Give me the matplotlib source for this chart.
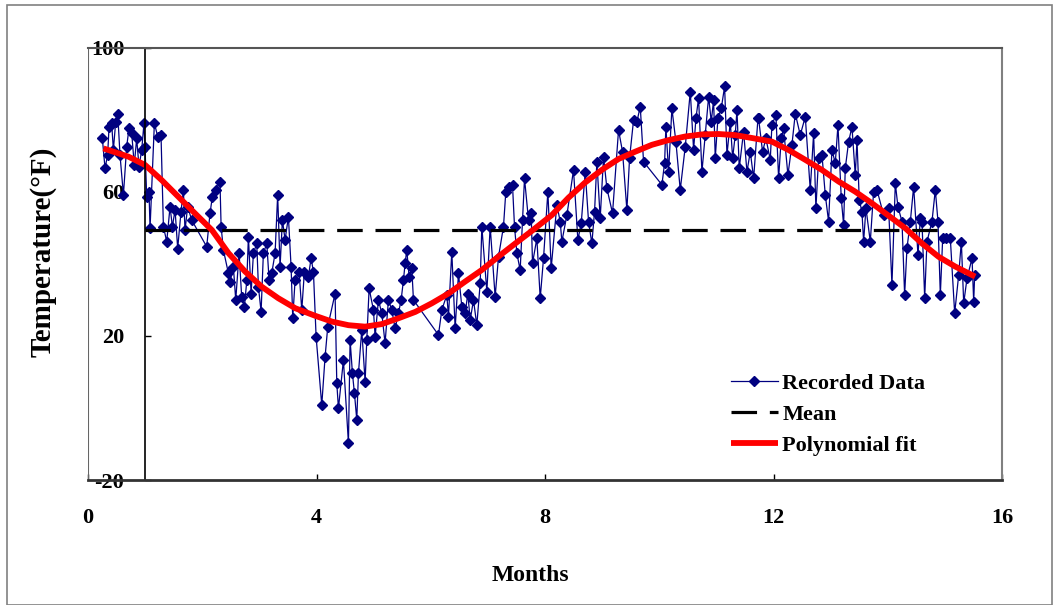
import matplotlib
matplotlib.use("Agg")
import matplotlib.pyplot as plt
from matplotlib.patches import Rectangle

plt.rcParams["font.family"] = ["Liberation Serif", "DejaVu Serif"]
plt.rcParams["font.weight"] = "bold"

# recorded temperatures (month, degF)
months = [0.251, 0.298, 0.344, 0.368, 0.414, 0.444, 0.485, 0.52, 0.56, 0.62,
          0.677, 0.718, 0.765, 0.81, 0.852, 0.893, 0.94, 0.98, 0.998, 1.027,
          1.068, 1.086, 1.162, 1.22, 1.278, 1.32, 1.378, 1.436, 1.477, 1.524,
          1.57, 1.628, 1.67, 1.698, 1.745, 1.815, 2.078, 2.136, 2.177, 2.236,
          2.31, 2.33, 2.37, 2.458, 2.487, 2.545, 2.586, 2.645, 2.69, 2.738,
          2.78, 2.808, 2.855, 2.896, 2.954, 2.983, 3.03, 3.07, 3.13, 3.17,
          3.216, 3.275, 3.32, 3.362, 3.403, 3.45, 3.508, 3.555, 3.584, 3.625,
          3.695, 3.742, 3.788, 3.858, 3.905, 3.946, 3.993,
          4.092, 4.15, 4.197, 4.325, 4.355, 4.384, 4.471, 4.559, 4.588, 4.629,
          4.664, 4.705, 4.734, 4.792, 4.851, 4.88, 4.921, 4.997, 5.026, 5.084,
          5.143, 5.2, 5.259, 5.318, 5.376, 5.434, 5.481, 5.522, 5.551, 5.58,
          5.621, 5.668, 5.697, 6.135, 6.193, 6.281, 6.31, 6.368, 6.427, 6.485,
          6.544, 6.602, 6.649, 6.69, 6.748, 6.806, 6.865, 6.894, 6.982, 7.04,
          7.127, 7.186, 7.273, 7.314, 7.372, 7.431, 7.466, 7.507, 7.565, 7.606,
          7.641, 7.711, 7.758, 7.781,
          7.857, 7.916, 7.974, 8.05, 8.108, 8.207, 8.266, 8.295, 8.383, 8.499,
          8.575, 8.634, 8.704, 8.762, 8.82, 8.867, 8.908, 8.966, 9.025, 9.083,
          9.182, 9.287, 9.357, 9.433, 9.48, 9.55, 9.608, 9.667, 9.725, 10.046,
          10.093, 10.116, 10.163, 10.221, 10.291, 10.367, 10.455, 10.543, 10.601, 10.642,
          10.688, 10.747, 10.805, 10.864, 10.91, 10.951, 10.98, 11.027, 11.085, 11.144,
          11.185, 11.243, 11.284, 11.33, 11.36, 11.4, 11.476, 11.535, 11.593, 11.652,
          11.728,
          11.738, 11.808, 11.867, 11.943, 11.972, 12.042, 12.089, 12.135, 12.176, 12.252,
          12.322, 12.381, 12.468, 12.556, 12.643, 12.702, 12.742, 12.789, 12.848, 12.906,
          12.964, 13.023, 13.081, 13.128, 13.186, 13.227, 13.256, 13.315, 13.373, 13.431,
          13.461, 13.501, 13.548, 13.577, 13.618, 13.694, 13.752, 13.811, 13.927, 14.015,
          14.073, 14.132, 14.178, 14.249, 14.295, 14.336, 14.395, 14.453, 14.529, 14.57,
          14.599, 14.646, 14.686, 14.774, 14.832, 14.879, 14.92, 14.961, 15.019, 15.095,
          15.171, 15.241, 15.288, 15.329, 15.387, 15.475, 15.504, 15.521]
temps = [74.9, 66.6, 70.3, 78.1, 79.1, 71.7, 79.5, 81.8, 70.3, 59.2,
         72.6, 77.7, 76.3, 67.5, 74.9, 67.0, 71.7, 79.1, 72.6, 58.7,
         60.1, 49.9, 79.1, 75.4, 75.8, 50.4, 46.2, 55.9, 50.4, 55.0,
         44.3, 54.5, 60.5, 49.4, 55.9, 52.2, 44.8, 54.1, 58.7, 60.5,
         62.9, 50.4, 43.9, 37.4, 35.1, 39.2, 30.0, 43.0, 30.9, 28.1,
         35.5, 47.6, 31.8, 43.0, 45.7, 33.7, 26.7, 43.0, 45.7, 35.5,
         37.4, 43.0, 59.2, 39.2, 52.2, 46.7, 53.1, 39.2, 24.9, 35.5,
         37.9, 27.2, 37.9, 36.5, 41.6, 37.9, 19.8,
         0.8, 14.2, 22.6, 31.8, 6.9, -0.1, 13.3, -9.8, 18.9, 9.6,
         4.1, -3.3, 9.6, 21.7, 7.3, 18.9, 33.2, 27.2, 19.8, 30.0,
         26.3, 18.0, 30.0, 27.2, 22.1, 26.3, 30.0, 35.5, 40.2, 43.9,
         36.5, 38.8, 30.0, 20.3, 27.2, 31.4, 25.4, 43.4, 22.1, 37.4,
         28.1, 26.3, 31.8, 24.4, 30.0, 23.0, 34.6, 50.4, 32.3, 50.4,
         30.9, 42.0, 50.4, 60.1, 61.5, 61.9, 50.4, 43.0, 38.3, 52.2,
         63.8, 52.2, 54.1, 40.2,
         47.1, 30.5, 41.6, 60.1, 38.8, 56.4, 51.8, 46.2, 53.6, 66.1,
         46.7, 51.3, 65.6, 51.8, 45.7, 54.5, 68.4, 52.7, 69.8, 61.0,
         54.1, 77.2, 71.2, 55.0, 69.4, 80.0, 79.5, 83.7, 68.4, 62.0,
         68.0, 78.1, 65.6, 83.2, 74.0, 60.6, 72.6, 87.9, 71.7, 80.5,
         86.0, 65.6, 75.8, 86.5, 79.5, 85.6, 69.4, 80.5, 83.2, 89.3,
         70.3, 79.5, 69.4, 75.8, 82.8, 66.6, 76.8, 65.6, 71.2, 63.8,
         80.5,
         80.5, 71.2, 74.9, 68.9, 78.6, 81.4, 63.8, 74.9, 77.7, 64.7,
         73.1, 81.8, 75.8, 80.9, 60.6, 76.3, 55.5, 69.4, 70.3, 59.2,
         51.8, 71.7, 68.0, 78.6, 58.2, 50.8, 66.6, 74.0, 78.1, 64.7,
         74.4, 57.8, 54.5, 46.2, 55.5, 46.2, 60.1, 60.6, 53.6, 55.5,
         34.2, 62.4, 55.9, 51.8, 31.4, 44.4, 51.8, 61.5, 42.5, 52.7,
         51.8, 30.5, 46.2, 51.8, 60.6, 51.8, 31.4, 47.1, 47.1, 47.1,
         26.3, 36.9, 46.2, 29.1, 36.0, 41.6, 29.5, 36.9]

# polynomial fit curve
fit_months = [0.27, 0.71, 1.0, 1.29, 1.58, 1.87, 2.17, 2.46, 2.75, 3.04,
              3.33, 3.63, 3.98, 4.27, 4.56, 4.85, 5.14, 5.43, 5.73, 6.02,
              6.31, 6.6, 6.89, 7.18, 7.48, 7.77, 8.12, 8.41, 8.7, 9.0,
              9.29, 9.58, 9.87, 10.16, 10.45, 10.75, 11.04, 11.33, 11.62, 11.97,
              12.26, 12.56, 12.85, 13.14, 13.43, 13.72, 14.0, 14.31, 14.6, 14.89,
              15.18, 15.53]
fit_temps = [72.1, 69.8, 67.5, 63.3, 58.7, 54.1, 49.4, 43.0, 37.9, 33.7,
             30.5, 27.7, 25.6, 24.0, 23.0, 22.6, 23.3, 24.9, 26.7, 29.1,
             31.8, 35.1, 38.3, 42.0, 45.7, 49.2, 53.6, 58.4, 62.6, 66.2,
             69.2, 71.2, 73.1, 74.4, 75.4, 76.0, 76.1, 75.8, 75.0, 74.0,
             71.7, 68.9, 66.1, 62.9, 60.1, 56.9, 53.6, 49.9, 45.7, 42.0,
             39.3, 36.5]

mean_temp = 49.4
mean_span = [1.0, 15.05]

yticks = [-20, 20, 60, 100]
ytick_labels = ["-20", "20", "60", "100"]
xticks = [0, 4, 8, 12, 16]

fig = plt.figure(figsize=(10.59, 6.05), dpi=100)
ax = fig.add_axes([0.0831, 0.2066, 0.8631, 0.7141])

ax.plot(months, temps, color="#000080", lw=0.9, marker="D", ms=5.3,
        markeredgecolor="#000080", markerfacecolor="#000080", label="Recorded Data")
ax.plot(mean_span, [mean_temp, mean_temp], color="black", lw=2.3,
        dashes=(8, 4), label="Mean")
ax.plot(fit_months, fit_temps, color="#ff0000", lw=4.2, label="Polynomial fit",
        solid_capstyle="butt")

ax.set_xlim(0, 16)
ax.set_ylim(-20, 100)

# plot-area frame in grey, y axis crossing at month 1
ax.spines["left"].set_position(("data", 1))
ax.spines["left"].set_color("black")
ax.spines["left"].set_linewidth(1.2)
ax.spines["bottom"].set_color("#333333")
ax.spines["bottom"].set_linewidth(2.0)
ax.spines["top"].set_color("#555555")
ax.spines["top"].set_linewidth(1.5)
ax.spines["right"].set_color("#808080")
ax.spines["right"].set_linewidth(1.5)
ax.axvline(0, color="#666666", lw=1.5)

ax.set_yticks(yticks)
ax.set_yticklabels(ytick_labels)
ax.set_xticks(xticks)
ax.tick_params(axis="y", direction="in", length=4, width=1, pad=15, labelsize=16)
ax.tick_params(axis="x", direction="in", length=4, width=1, pad=20, labelsize=16)

ax.set_xlabel("Months", fontsize=17, fontweight="bold")
ax.xaxis.set_label_coords((530 - 88) / 914, -(565 - 480) / 432)
ax.set_ylabel("Temperature(\u00b0F)", fontsize=21, fontweight="bold")
ax.yaxis.set_label_coords(-(88 - 57) / 914, (480 - 252) / 432)

ax.legend(loc="upper left", bbox_to_anchor=(731 / 1059, 1 - 373 / 605),
          bbox_transform=fig.transFigure, frameon=False, fontsize=16,
          numpoints=1, handlelength=2.1, handletextpad=0.2, labelspacing=0.48,
          borderpad=0, borderaxespad=0)

# outer border of the picture
fig.patches.append(Rectangle((7 / 1059, 0.0), 1045 / 1059, 1 - 5 / 605,
                             transform=fig.transFigure, fill=False,
                             edgecolor="#808080", lw=1.2))

fig.savefig("out.png", dpi=100)
